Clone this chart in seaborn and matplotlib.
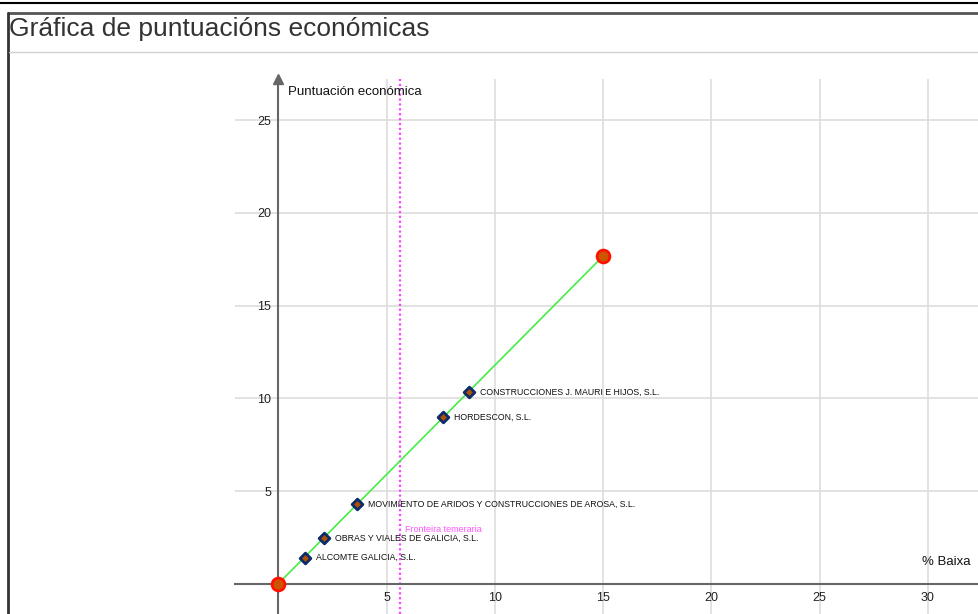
import numpy as np
import pandas as pd
import seaborn as sns
import matplotlib.pyplot as plt
from matplotlib.lines import Line2D
from matplotlib.ticker import MultipleLocator, FixedLocator

# data
empresas = ["ALCOMTE GALICIA, S.L.",
            "OBRAS Y VIALES DE GALICIA, S.L.",
            "MOVIMIENTO DE ARIDOS Y CONSTRUCCIONES DE AROSA, S.L.",
            "HORDESCON, S.L.",
            "CONSTRUCCIONES J. MAURI E HIJOS, S.L."]
baixa = [1.22, 2.12, 3.65, 7.62, 8.79]
puntuacion = [1.41, 2.47, 4.28, 8.99, 10.34]

recta_x = [0, 15]
recta_y = [0, 17.67]

fronteira_x = 5.62
fronteira_label_y = 2.93

x_ticks = [5, 10, 15, 20, 25, 30]
y_ticks = [5, 10, 15, 20, 25]

W, H = 979, 614
sns.set_style("white")
plt.rcParams['font.family'] = ['Liberation Sans', 'DejaVu Sans']

fig = plt.figure(figsize=(W / 100, H / 100), dpi=100)

# panel decoration
def px_line(x0, y0, x1, y1, **kw):
    fig.add_artist(Line2D([x0 / W, x1 / W], [1 - y0 / H, 1 - y1 / H],
                          transform=fig.transFigure, **kw))

px_line(0, 3, W, 3, color='black', lw=1.5)
px_line(8, 13, W, 13, color='#555555', lw=2)
px_line(8.5, 13, 8.5, H, color='#333333', lw=2)
px_line(9, 51.5, W, 51.5, color='#d0d0d0', lw=1)
fig.text(9 / W, 1 - 29 / H, "Gráfica de puntuacións económicas",
         fontsize=19, color='#333333', va='center', ha='left')

# graphics view
ax_l, ax_r, ax_t, ax_b = 235, 979, 79, 614
ax = fig.add_axes([ax_l / W, 1 - ax_b / H, (ax_r - ax_l) / W, (ax_b - ax_t) / H])
x0_px, y0_px = 278.3, 583.7
sx, sy = 21.65, 18.54
ax.set_xlim((ax_l - x0_px) / sx, (ax_r - x0_px) / sx)
ax.set_ylim((y0_px - ax_b) / sy, (y0_px - ax_t) / sy)
ax.set_facecolor('white')

ax.xaxis.set_major_locator(FixedLocator(x_ticks))
ax.yaxis.set_major_locator(FixedLocator(y_ticks))
ax.xaxis.set_minor_locator(MultipleLocator(1))
ax.yaxis.set_minor_locator(MultipleLocator(1))
ax.grid(True, which='major', color='#dddddd', lw=1.2)
ax.set_axisbelow(True)

for s in ['top', 'right']:
    ax.spines[s].set_visible(False)
ax.spines['left'].set_position(('data', 0))
ax.spines['bottom'].set_position(('data', 0))
for s in ['left', 'bottom']:
    ax.spines[s].set_color('#666666')
    ax.spines[s].set_linewidth(1.5)

ax.tick_params(axis='x', which='both', direction='out', length=5, width=1,
               color='#b0b0b0', labelsize=9, labelcolor='#222222', pad=1)
ax.tick_params(axis='y', which='both', direction='in', length=5, width=1,
               color='#b0b0b0', labelsize=9, labelcolor='#222222', pad=5)

# y axis arrow
ax.plot(0, 1, marker='^', markersize=7, color='#666666',
        transform=ax.get_xaxis_transform(), clip_on=False, zorder=5)

# frontier
ax.axvline(fronteira_x, color='#ff44ff', ls=(0, (1, 1.2)), lw=1.6, zorder=2)
ax.annotate("Fronteira temeraria", xy=(fronteira_x, fronteira_label_y),
            xytext=(5, 0), textcoords='offset pixels', color='#ff55ff',
            fontsize=6.5, va='center', ha='left')

# line and points
sns.lineplot(x=recta_x, y=recta_y, color='#44ee44', lw=1.2, ax=ax, zorder=3)
sns.scatterplot(x=recta_x, y=recta_y, s=85, color='#cc5500',
                edgecolor='#ff1100', linewidth=2, ax=ax, zorder=6)

df = pd.DataFrame({'baixa': baixa, 'puntuacion': puntuacion, 'empresa': empresas})
sns.scatterplot(data=df, x='baixa', y='puntuacion', marker='D', s=30,
                color='#b05000', edgecolor='#0d2a6a', linewidth=2, ax=ax, zorder=6)
for _, r in df.iterrows():
    ax.annotate(r['empresa'], xy=(r['baixa'], r['puntuacion']), xytext=(11, 0),
                textcoords='offset pixels', fontsize=6.3, color='#111111',
                va='center', ha='left')

ax.set_xlabel('')
ax.set_ylabel('')
ax.annotate("Puntuación económica", xy=(0, 1), xycoords=ax.get_xaxis_transform(),
            xytext=(10, -13), textcoords='offset pixels', fontsize=9.5,
            color='#111111', ha='left', va='center')
ax.annotate("% Baixa", xy=(1, 0), xycoords=ax.get_yaxis_transform(),
            xytext=(-8, 22), textcoords='offset pixels', fontsize=9.5,
            color='#111111', ha='right', va='center')

fig.savefig('out.png', dpi=100)
